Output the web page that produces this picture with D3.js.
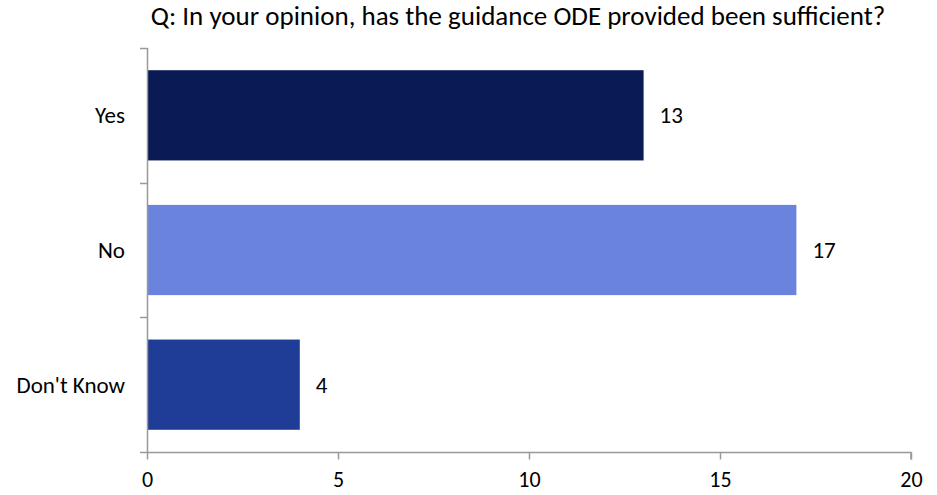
<!DOCTYPE html>
<html>
<head>
<meta charset="utf-8">
<script src="https://cdn.jsdelivr.net/npm/d3@7"></script>
<style>
  html, body { margin: 0; padding: 0; background: #fff; }
  svg text { font-family: Carlito, Lato, "Open Sans", sans-serif; fill: #000; }
</style>
</head>
<body>
<svg id="chart" width="937" height="495"></svg>
<script>
const categories = ["Yes", "No", "Don't Know"];
const counts = [13, 17, 4];
const barColors = ["#0a1a54", "#6a84de", "#1f3c96"];
const xTicks = [0, 5, 10, 15, 20];
const title = "Q: In your opinion, has the guidance ODE provided been sufficient?";

const svg = d3.select("#chart");
const margin = { left: 147, right: 26, top: 48, bottom: 43 };
const W = 937, H = 495;
const labelSize = 23;

const x = d3.scaleLinear().domain([0, 20]).range([margin.left, W - margin.right]);
const y = d3.scaleBand().domain(categories).range([margin.top, H - margin.bottom]).paddingInner(0.33).paddingOuter(0.165);

svg.append("text")
  .attr("x", 518).attr("y", 25)
  .attr("text-anchor", "middle")
  .attr("font-size", 27)
  .text(title);

svg.selectAll("rect.bar")
  .data(categories)
  .join("rect")
  .attr("class", "bar")
  .attr("x", x(0))
  .attr("y", d => y(d))
  .attr("width", (d, i) => x(counts[i]) - x(0))
  .attr("height", y.bandwidth())
  .attr("fill", (d, i) => barColors[i]);

svg.selectAll("text.val")
  .data(categories)
  .join("text")
  .attr("class", "val")
  .attr("x", (d, i) => x(counts[i]) + 16)
  .attr("y", d => y(d) + y.bandwidth() / 2)
  .attr("dy", "0.35em")
  .attr("font-size", labelSize)
  .text((d, i) => counts[i]);

// y axis: category labels with ticks between bands
const yAxisG = svg.append("g");
yAxisG.append("line")
  .attr("x1", x(0) + 0.5).attr("x2", x(0) + 0.5)
  .attr("y1", margin.top).attr("y2", H - margin.bottom)
  .attr("stroke", "#999").attr("stroke-width", 1.5);
const step = (H - margin.bottom - margin.top) / categories.length;
d3.range(categories.length + 1).forEach(i => {
  const yy = Math.round(margin.top + i * step) + 0.5;
  yAxisG.append("line")
    .attr("x1", x(0) - 7).attr("x2", x(0) + 0.5)
    .attr("y1", yy).attr("y2", yy)
    .attr("stroke", "#999").attr("stroke-width", 1.5);
});
yAxisG.selectAll("text")
  .data(categories)
  .join("text")
  .attr("x", 125)
  .attr("y", d => y(d) + y.bandwidth() / 2)
  .attr("dy", "0.35em")
  .attr("text-anchor", "end")
  .attr("font-size", labelSize)
  .text(d => d);

// x axis
const xAxis = d3.axisBottom(x).tickValues(xTicks).tickSize(7).tickPadding(12);
const xg = svg.append("g")
  .attr("transform", `translate(0,${H - margin.bottom + 0.5})`)
  .call(xAxis);
xg.select(".domain").attr("stroke", "#999").attr("stroke-width", 1.5)
  .attr("d", `M${x(0)},0H${x(20)}V7`);
xg.selectAll(".tick line").attr("stroke", "#999").attr("stroke-width", 1.5);
xg.selectAll(".tick text").attr("font-size", 22).attr("font-family", "Carlito, Lato, 'Open Sans', sans-serif").attr("fill", "#000");
</script>
</body>
</html>
